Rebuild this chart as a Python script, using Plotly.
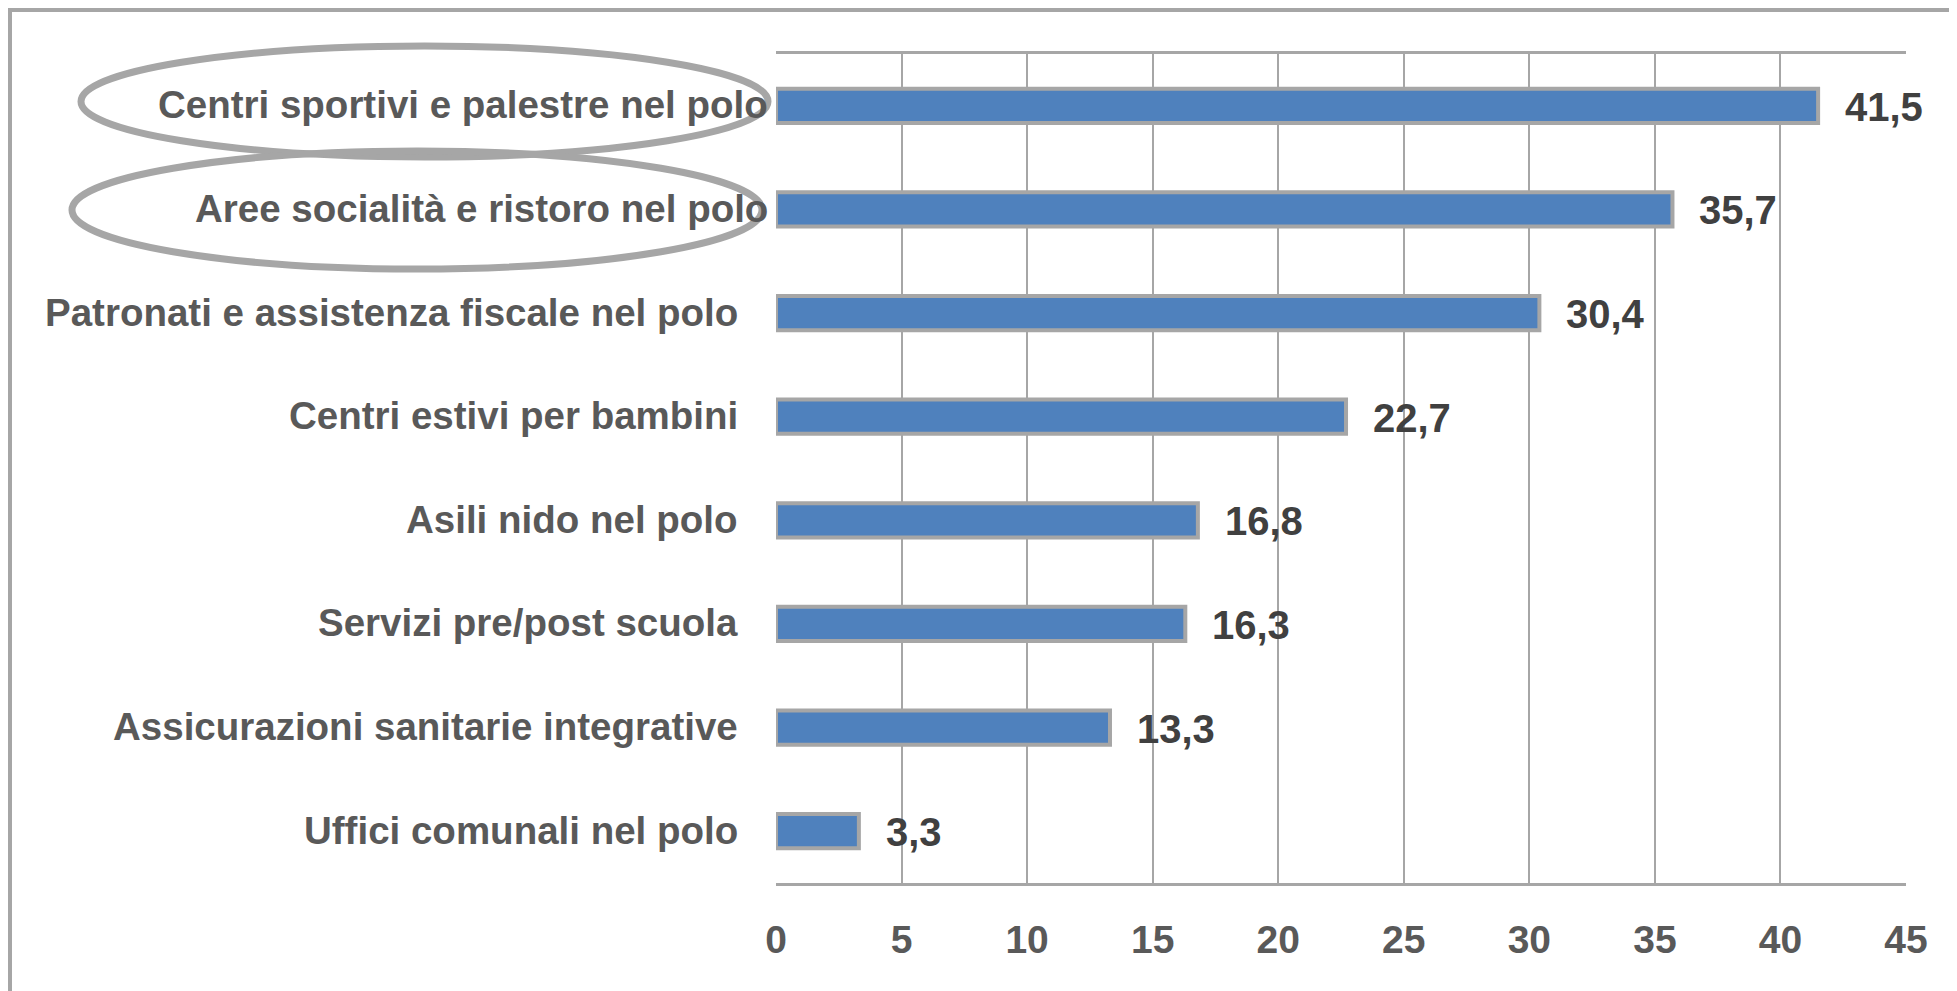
import plotly.graph_objects as go

categories = [
    "Centri sportivi e palestre nel polo",
    "Aree socialità e ristoro nel polo",
    "Patronati e assistenza fiscale nel polo",
    "Centri estivi per bambini",
    "Asili nido nel polo",
    "Servizi pre/post scuola",
    "Assicurazioni sanitarie integrative",
    "Uffici comunali nel polo",
]
values = [41.5, 35.7, 30.4, 22.7, 16.8, 16.3, 13.3, 3.3]
tick_vals = [0, 5, 10, 15, 20, 25, 30, 35, 40, 45]
highlighted = ["Centri sportivi e palestre nel polo", "Aree socialità e ristoro nel polo"]

# page has an 8px body margin: work in screen coords, then subtract OFF
OFF = 8
SW, SH = 1957, 991
W, H = SW - OFF, SH - OFF
PL, PR, PT, PB = 776, 1906, 54, 883          # plot area in screen coords
L, R, T, B = PL - OFF, W - (PR - OFF), PT - OFF, H - (PB - OFF)
pw, ph = W - L - R, H - T - B


def px(x):
    return (x - OFF - L) / pw


def py(y):
    return (H - B - (y - OFF)) / ph


FONT = "Liberation Sans, Arial, sans-serif"
GRAY = "#A6A6A6"

fig = go.Figure()
fig.add_trace(go.Bar(
    x=values,
    y=categories,
    orientation="h",
    marker=dict(color="#4F81BD", line=dict(color=GRAY, width=4)),
    width=0.33,
    hoverinfo="x+y",
))

# value labels
for c, v in zip(categories, values):
    fig.add_annotation(
        x=v, y=c, xref="x", yref="y",
        text="<b>" + f"{v:.1f}".replace(".", ",") + "</b>",
        showarrow=False, xanchor="left", yanchor="middle",
        xshift=25, yshift=-1,
        font=dict(family=FONT, size=40, color="#404040"),
    )

# category labels (the two highlighted ones sit closer to the axis)
for c in categories:
    gap = 8 if c in highlighted else 38
    fig.add_annotation(
        x=0, y=c, xref="paper", yref="y",
        text="<b>" + c + "</b>",
        showarrow=False, xanchor="right", yanchor="middle",
        xshift=-gap + 2, yshift=1,
        font=dict(family=FONT, size=38.5, color="#595959"),
    )

shapes = [
    # outer frame (cut off at right/bottom)
    dict(type="rect", xref="paper", yref="paper",
         x0=px(10), x1=px(SW + 30), y0=py(SH + 30), y1=py(10),
         line=dict(color=GRAY, width=4), fillcolor="rgba(0,0,0,0)", layer="below"),
    # highlight ellipses
    dict(type="circle", xref="paper", yref="paper",
         x0=px(81), x1=px(768), y0=py(157), y1=py(46),
         line=dict(color=GRAY, width=7)),
    dict(type="circle", xref="paper", yref="paper",
         x0=px(72), x1=px(762), y0=py(269), y1=py(151),
         line=dict(color=GRAY, width=7)),
]

fig.update_layout(
    width=W, height=H,
    margin=dict(l=L, r=R, t=T, b=B),
    paper_bgcolor="white",
    plot_bgcolor="white",
    showlegend=False,
    shapes=shapes,
    font=dict(family=FONT, color="#595959"),
    xaxis=dict(
        range=[0, 45], tickvals=tick_vals, ticktext=[f"<b>{t}</b>" for t in tick_vals],
        showgrid=True, gridcolor=GRAY, gridwidth=2,
        zeroline=False, showline=True, linecolor=GRAY, linewidth=2.5, mirror=True,
        ticks="", ticklabelstandoff=20,
        tickfont=dict(family=FONT, size=39, color="#595959"),
        fixedrange=True,
    ),
    yaxis=dict(
        categoryorder="array", categoryarray=categories[::-1],
        showticklabels=False,
        showgrid=False, zeroline=False, showline=False,
        ticks="",
        range=[-0.5, 7.5],
        fixedrange=True,
    ),
)

fig.write_html("out.html")
